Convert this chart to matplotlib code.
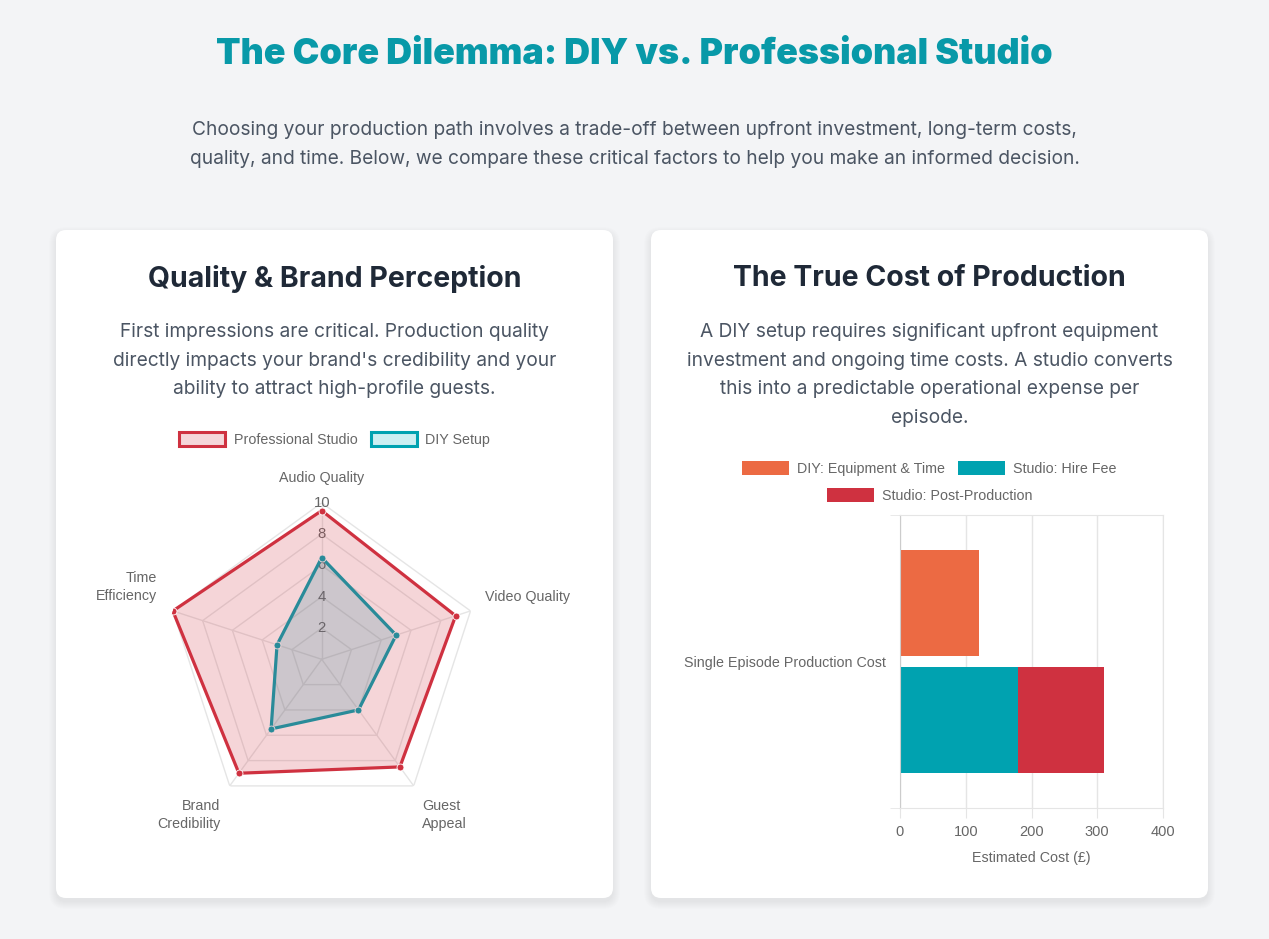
import numpy as np
import matplotlib
matplotlib.use("Agg")
import matplotlib.pyplot as plt
from matplotlib.patches import FancyBboxPatch, Rectangle

# ---- data ----
radar_labels = ["Audio Quality", "Video Quality", "Guest\nAppeal", "Brand\nCredibility", "Time\nEfficiency"]
pro_scores = [9.5, 9, 8.5, 9, 10]
diy_scores = [6.5, 5, 4, 5.5, 3]
radar_ticks = [2, 4, 6, 8, 10]

cost_category = "Single Episode Production Cost"
diy_equipment = [120]
studio_hire = [180]
studio_post = [130]
cost_ticks = [0, 100, 200, 300, 400]

# ---- colours ----
BG = "#f3f4f6"
TEAL = "#00a2b0"
RED = "#cf3140"
ORANGE = "#ec6a43"
DARK = "#1f2937"
BODY = "#4b5563"
CHART_TXT = "#666666"
GRID = "#e5e5e5"
CFS = 10.25  # chart font size

W, H = 1269, 939
fig = plt.figure(figsize=(W / 100, H / 100), dpi=100, facecolor=BG)

# background axes in pixel coordinates
bg = fig.add_axes([0, 0, 1, 1], zorder=0)
bg.set_xlim(0, W)
bg.set_ylim(H, 0)
bg.axis("off")

bg.text(W / 2, 55, "The Core Dilemma: DIY vs. Professional Studio", ha="center", va="center",
        fontsize=25.8, fontweight="black", color="#0899a8", family="Inter")
sub = ["Choosing your production path involves a trade-off between upfront investment, long-term costs,",
       "quality, and time. Below, we compare these critical factors to help you make an informed decision."]
for i, line in enumerate(sub):
    bg.text(W / 2, 130 + i * 29, line, ha="center", va="center", fontsize=13.8, color=BODY, family="Inter")

# cards with soft shadow
for x0 in (56, 651):
    for k in range(8):
        bg.add_patch(FancyBboxPatch((x0 - k, 230 + 4 - k), 557 + 2 * k, 668 + 2 * k,
                                    boxstyle="round,pad=0,rounding_size=%d" % (10 + k),
                                    facecolor="black", edgecolor="none", alpha=0.008, zorder=1))
    bg.add_patch(FancyBboxPatch((x0, 230), 557, 668, boxstyle="round,pad=0,rounding_size=10",
                                facecolor="white", edgecolor="none", zorder=2))

bg.text(334.5, 279, "Quality & Brand Perception", ha="center", va="center", fontsize=20.5,
        fontweight="bold", color=DARK, family="Inter", zorder=3)
bg.text(929.5, 279, "The True Cost of Production", ha="center", va="center", fontsize=20.5,
        fontweight="bold", color=DARK, family="Inter", zorder=3)

left_body = ["First impressions are critical. Production quality",
             "directly impacts your brand's credibility and your",
             "ability to attract high-profile guests."]
right_body = ["A DIY setup requires significant upfront equipment",
              "investment and ongoing time costs. A studio converts",
              "this into a predictable operational expense per",
              "episode."]
for i, line in enumerate(left_body):
    bg.text(334.5, 332 + i * 28.7, line, ha="center", va="center", fontsize=13.8, color=BODY,
            family="Inter", zorder=3)
for i, line in enumerate(right_body):
    bg.text(929.5, 332 + i * 28.7, line, ha="center", va="center", fontsize=13.8, color=BODY,
            family="Inter", zorder=3)

# legends
lfont = dict(fontsize=CFS, color=CHART_TXT, family="Liberation Sans", va="center", zorder=3)
bg.add_patch(Rectangle((179, 432), 46, 14, facecolor="#f5d6d9", edgecolor=RED, lw=2.2, zorder=3))
bg.text(234, 440, "Professional Studio", **lfont)
bg.add_patch(Rectangle((371, 432), 46, 14, facecolor="#cceff2", edgecolor=TEAL, lw=2.2, zorder=3))
bg.text(425, 440, "DIY Setup", **lfont)

bg.add_patch(Rectangle((742, 461), 47, 14, facecolor=ORANGE, edgecolor="none", zorder=3))
bg.text(797, 469, "DIY: Equipment & Time", **lfont)
bg.add_patch(Rectangle((958, 461), 47, 14, facecolor=TEAL, edgecolor="none", zorder=3))
bg.text(1013, 469, "Studio: Hire Fee", **lfont)
bg.add_patch(Rectangle((827, 488), 47, 14, facecolor=RED, edgecolor="none", zorder=3))
bg.text(882, 496, "Studio: Post-Production", **lfont)

# ---- radar chart ----
cx, cy, R = 321.7, 659.3, 156.5
rax = fig.add_axes([(cx - R) / W, 1 - (cy + R) / H, 2 * R / W, 2 * R / H], projection="polar", zorder=5)
rax.set_facecolor("none")
rax.set_theta_offset(np.pi / 2)
rax.set_theta_direction(-1)
rax.set_ylim(0, 10)
rax.grid(False)
rax.spines["polar"].set_visible(False)
rax.set_xticks([])
rax.set_yticks([])

n = len(radar_labels)
ang = np.linspace(0, 2 * np.pi, n, endpoint=False)
ang_c = np.append(ang, ang[0])
for t in radar_ticks:
    rax.plot(ang_c, [t] * (n + 1), color=GRID, lw=1, zorder=1)
for a in ang:
    rax.plot([a, a], [0, 10], color=GRID, lw=1, zorder=1)
for t in radar_ticks:
    rax.text(0, t, str(t), ha="center", va="center", fontsize=CFS + 0.5, color=CHART_TXT,
             family="Liberation Sans", zorder=2)

diy_c = np.append(diy_scores, diy_scores[0])
pro_c = np.append(pro_scores, pro_scores[0])
rax.fill(ang_c, diy_c, color=TEAL, alpha=0.2, lw=0, zorder=3)
rax.plot(ang_c, diy_c, color=TEAL, lw=2.3, zorder=4)
rax.plot(ang, diy_scores, "o", color=TEAL, ms=5, mec="white", mew=0.6, zorder=4)
rax.fill(ang_c, pro_c, color=RED, alpha=0.2, lw=0, zorder=6)
rax.plot(ang_c, pro_c, color=RED, lw=2.3, zorder=7)
rax.plot(ang, pro_scores, "o", color=RED, ms=5, mec="white", mew=0.6, zorder=8)

# radar point labels
pl = dict(fontsize=CFS, color=CHART_TXT, family="Liberation Sans", zorder=3, linespacing=1.3)
bg.text(321.5, 478, radar_labels[0], ha="center", va="center", **pl)
bg.text(485, 597, radar_labels[1], ha="left", va="center", **pl)
bg.text(422, 815, radar_labels[2], ha="left", va="center", multialignment="left", **pl)
bg.text(220, 815, radar_labels[3], ha="right", va="center", multialignment="right", **pl)
bg.text(157, 587, radar_labels[4], ha="right", va="center", multialignment="right", **pl)

# ---- stacked bar chart ----
x0, x1, y0, y1 = 900, 1163, 515, 808
bax = fig.add_axes([x0 / W, 1 - y1 / H, (x1 - x0) / W, (y1 - y0) / H], zorder=5)
bax.set_facecolor("none")
bax.set_xlim(0, 400)
bax.set_ylim(0.5, -0.5)
h = 0.36
bax.barh([-0.2], diy_equipment, height=h, color=ORANGE, edgecolor="none")
bax.barh([0.2], studio_hire, height=h, color=TEAL, edgecolor="none")
bax.barh([0.2], studio_post, left=studio_hire, height=h, color=RED, edgecolor="none")
bax.set_xticks(cost_ticks)
bax.set_xticklabels([str(v) for v in cost_ticks], fontsize=CFS + 0.3, color=CHART_TXT, family="Liberation Sans")
bax.tick_params(axis="x", length=7, color=GRID, pad=5)
bax.set_yticks([-0.5, 0.5], minor=True)
bax.set_yticks([0])
bax.set_yticklabels([cost_category], fontsize=CFS, color=CHART_TXT, family="Liberation Sans")
bax.tick_params(axis="y", which="major", length=0, pad=10)
bax.tick_params(axis="y", which="minor", length=7, color=GRID)
bax.grid(axis="x", color=GRID, lw=1)
bax.set_axisbelow(True)
for s in ("top", "bottom", "right"):
    bax.spines[s].set_color(GRID)
bax.spines["left"].set_color("#cccccc")
bax.set_xlabel("Estimated Cost (£)", fontsize=CFS, color=CHART_TXT, family="Liberation Sans", labelpad=9)

fig.savefig("out.png", dpi=100, facecolor=BG)
